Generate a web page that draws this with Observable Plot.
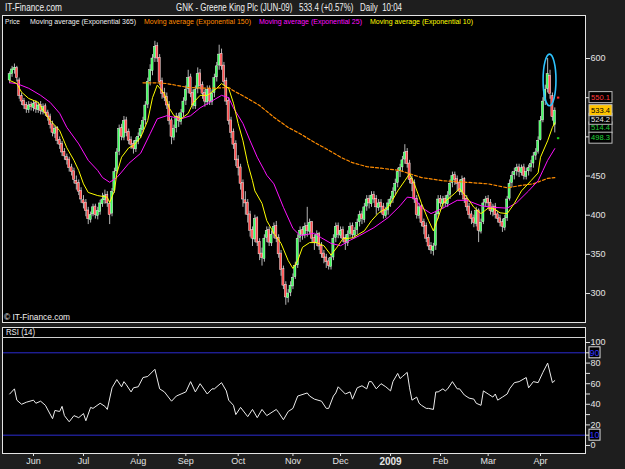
<!DOCTYPE html>
<html><head><meta charset="utf-8">
<script src="https://cdn.jsdelivr.net/npm/d3@7"></script>
<script src="https://cdn.jsdelivr.net/npm/@observablehq/plot@0.6"></script>
<style>
html,body{margin:0;padding:0;background:#1e1e1e;}
#wrap{position:relative;width:625px;height:469px;background:#1e1e1e;overflow:hidden;font-family:"Liberation Sans",Arial,sans-serif;}
.panel{position:absolute;background:#000;border:1px solid #e4e4e4;box-sizing:border-box;}
.abs{position:absolute;left:0;}
#ov text{white-space:pre;}
</style></head><body>
<div id="wrap">
  <div class="panel" style="left:2px;top:15px;width:584px;height:308px"></div>
  <div class="panel" style="left:2px;top:327px;width:584px;height:127px"></div>
  <div id="main" class="abs" style="top:15px"></div>
  <div id="rsi" class="abs" style="top:327px"></div>
  <svg id="ov" class="abs" style="top:0;pointer-events:none" width="625" height="469"></svg>
</div>
<script>
// ---- daily candles (trading-day index 0 = 16 May 2008) ----
const open = [572,580,585,588,572,552,546,541,534,541,
537,543,534,541,532,539,531,526,516,504,
511,496,491,481,474,471,461,456,444,441,
431,419,416,406,394,401,411,399,404,414,
419,426,414,402,431,456,481,511,499,521,
506,496,491,484,494,501,509,521,541,571,
584,601,616,601,571,556,551,541,521,499,
511,526,519,531,546,561,576,556,539,561,
581,566,556,544,561,544,556,576,591,606,
591,571,546,521,506,491,471,461,441,419,
416,401,381,369,396,366,351,344,371,381,
364,376,386,371,351,331,311,294,301,309,
321,336,371,381,374,386,379,391,371,364,
376,361,351,346,341,334,346,371,386,374,
381,371,364,376,386,374,381,391,401,394,
411,421,414,426,421,409,416,411,399,406,
414,421,431,441,456,461,471,481,466,446,
441,421,399,411,391,386,371,361,354,361,
401,421,414,421,414,426,441,451,446,441,
429,446,421,411,401,396,389,406,379,391,
416,421,416,404,411,401,396,391,384,396,
421,441,451,456,461,454,461,449,456,461,
466,476,481,496,521,546,561,578,552,515];
const high = [583,590,593,590,575,556,549,544,545,544,
546,546,544,545,542,542,534,529,520,514,
513,500,494,485,478,474,465,460,450,445,
435,425,420,410,404,414,414,410,419,428,
432,430,418,434,460,485,515,516,526,525,
510,500,495,499,505,515,525,545,575,592,
605,622,620,605,575,562,556,545,524,515,
530,530,535,550,565,585,580,560,565,588,
586,570,560,565,565,560,580,595,617,612,
595,575,550,525,510,495,476,465,445,430,
420,405,385,400,398,370,358,375,385,385,
380,390,392,375,355,335,315,305,315,325,
340,375,385,385,390,410,395,392,375,380,
378,365,355,350,345,350,375,390,390,385,
385,375,380,390,390,384,395,405,405,415,
425,425,430,430,425,420,420,415,410,420,
424,435,446,460,465,475,490,485,470,450,
445,425,415,414,395,390,375,365,364,405,
425,425,424,425,430,445,455,455,450,445,
450,448,425,415,405,400,410,408,395,420,
424,425,420,414,415,405,400,395,400,424,
445,455,460,465,465,464,465,460,464,470,
480,485,500,526,550,566,600,585,556,537];
const low = [568,576,580,570,548,540,535,530,530,533,
532,530,530,528,528,526,520,510,500,498,
490,484,475,470,464,455,450,440,432,425,
415,408,398,388,390,398,395,394,400,410,
414,410,388,398,428,452,476,495,495,500,
490,484,478,480,490,498,505,515,536,565,
578,595,595,565,548,545,535,515,490,495,
505,512,515,525,540,555,550,535,535,555,
560,548,538,540,540,540,550,570,585,585,
565,540,515,498,484,462,450,432,410,400,
390,372,360,365,360,342,335,340,365,360,
360,370,365,345,322,305,285,288,296,305,
318,332,365,368,370,372,375,365,355,360,
355,345,338,332,330,330,342,365,370,370,
365,355,360,372,370,370,375,385,388,390,
405,408,410,415,400,405,402,395,396,400,
410,415,425,435,448,455,465,460,440,430,
415,395,395,385,375,365,355,350,348,355,
395,410,408,410,410,420,435,438,430,425,
425,415,405,395,388,384,385,365,376,388,
410,408,400,398,395,390,385,378,380,392,
418,435,445,450,448,450,445,445,450,455,
460,470,478,495,518,540,556,548,520,505];
const close = [580,586,588,575,552,545,540,535,540,538,
542,535,540,533,538,530,525,515,505,510,
495,490,480,475,470,460,455,445,440,430,
420,415,405,395,400,410,400,405,415,420,
425,415,400,430,455,480,510,500,520,505,
495,490,485,495,500,510,520,540,570,585,
600,615,600,570,555,550,540,520,500,510,
525,520,530,545,560,575,555,540,560,580,
565,555,545,560,545,555,575,590,605,590,
570,545,520,505,490,470,460,440,420,415,
400,380,370,395,365,350,345,370,380,365,
375,385,370,350,330,310,295,300,310,320,
335,370,380,375,385,380,390,370,365,375,
360,350,345,340,335,345,370,385,375,380,
370,365,375,385,375,380,390,400,395,410,
420,415,425,420,410,415,410,400,405,415,
420,430,440,455,460,470,480,465,445,440,
420,400,410,390,385,370,360,355,360,400,
420,415,420,415,425,440,450,445,440,430,
445,420,410,400,395,390,405,380,390,415,
420,415,405,410,400,395,390,385,395,420,
440,450,455,460,455,460,450,455,460,465,
475,480,495,520,545,560,580,555,525,533.4];

// ---- moving averages: [day index, value] ----
const ema10 = [[0,572],[3,568],[5,557],[8,549],[12,544],[14,534],[17,521],[21,508],[24,486],[27,470],[29,457],[31,440],[33,429],[37,425],[41,423],[42,416],[44,431],[45,453],[47,474],[50,486],[52,489],[55,499],[58,521],[60,550],[62,566],[65,555],[67,537],[69,527],[72,523],[75,530],[77,543],[80,553],[83,553],[84,555],[87,562],[89,568],[92,562],[94,543],[96,517],[98,495],[100,466],[102,444],[103,431],[106,415],[108,393],[111,377],[114,364],[117,342],[119,332],[121,342],[123,359],[126,365],[129,365],[132,361],[135,349],[138,361],[140,370],[144,371],[149,380],[152,393],[155,403],[159,410],[160,415],[163,431],[166,444],[168,453],[170,440],[173,415],[176,393],[178,380],[180,397],[182,415],[187,428],[189,434],[192,423],[195,410],[198,402],[201,409],[203,409],[206,403],[209,402],[212,415],[215,431],[219,444],[222,454],[223,474],[226,495],[228,512],[229,518]];
const ema25 = [[0,569],[3,568],[8,562],[13,553],[17,544],[21,530],[24,512],[29,491],[33,470],[37,457],[39,448],[42,442],[45,448],[47,455],[50,466],[55,479],[59,504],[62,523],[66,527],[72,523],[76,527],[80,537],[84,544],[89,553],[92,550],[94,537],[98,517],[101,495],[104,474],[107,457],[108,451],[111,440],[115,410],[119,383],[122,374],[128,377],[131,371],[135,364],[139,361],[143,368],[147,374],[153,384],[159,397],[164,412],[167,423],[170,422],[173,410],[177,402],[182,409],[188,419],[192,419],[198,412],[203,410],[209,409],[213,416],[218,431],[222,444],[224,457],[226,470],[229,485]];
const ema150 = [[56,569],[62,569],[66,568],[75,563],[84,562],[92,563],[94,559],[100,549],[105,540],[111,525],[117,512],[122,504],[128,493],[134,483],[139,474],[144,467],[150,462],[156,460],[164,457],[173,448],[182,444],[192,442],[201,440],[209,435],[215,438],[220,440],[226,447],[229,448]];

// ---- RSI(14): [day index, value] ----
const rsi = [[0,50],[2,55],[3,44],[5,40],[7,42],[10,44],[11,41],[13,43],[15,39],[18,26],[19,34],[21,33],[22,38],[23,29],[25,23],[27,29],[29,27],[31,31],[32,24],[34,37],[35,36],[38,41],[40,38],[41,35],[43,56],[45,64],[47,57],[48,62],[49,59],[51,52],[52,56],[54,57],[56,66],[58,67],[61,74],[63,55],[65,52],[68,43],[70,48],[72,50],[74,52],[76,62],[78,52],[80,60],[83,50],[85,55],[86,55],[89,61],[91,53],[92,44],[94,39],[95,30],[97,37],[100,28],[102,35],[104,27],[106,35],[108,29],[112,35],[113,32],[115,25],[117,33],[119,36],[121,48],[125,51],[126,48],[128,45],[131,43],[133,36],[134,36],[136,48],[137,51],[138,57],[141,50],[143,52],[144,45],[146,56],[148,58],[150,55],[151,62],[152,62],[154,55],[156,60],[158,57],[160,53],[161,62],[163,70],[164,65],[165,67],[167,71],[168,56],[169,44],[171,47],[172,41],[173,39],[175,36],[176,36],[178,35],[179,52],[180,52],[182,55],[183,53],[184,55],[186,62],[188,55],[189,55],[191,49],[193,46],[195,45],[196,41],[198,39],[199,53],[201,50],[203,47],[204,50],[205,44],[207,47],[209,50],[210,55],[212,61],[214,62],[217,66],[218,56],[220,62],[222,61],[224,71],[226,80],[228,61],[229,63]];
const rsiBands = [90, 10];

// ---- axes / labels ----
const monthIdx = [10,31,54,74,96,119,139,160,181,201,223];
const monthLabels = ["Jun","Jul","Aug","Sep","Oct","Nov","Dec","2009","Feb","Mar","Apr"];
const priceTicks = [300,350,400,450,500,550,600];
const hiddenPriceLabels = [500, 550];   // covered by the value tags in the original
const rsiTicks = [0,10,20,30,40,50,60,70,80,90,100];
const priceTags = [
  {v: 550.1, text: "550.1", fg: "#ff3b3b", bg: "#000", z: 5},
  {v: 533.4, text: "533.4", fg: "#000", bg: "#ffc400", z: 4},
  {v: 524.2, text: "524.2", fg: "#e8e8e8", bg: "#000", z: 2},
  {v: 514.4, text: "514.4", fg: "#22c83a", bg: "#000", z: 1},
  {v: 498.3, text: "498.3", fg: "#22d83a", bg: "#000", z: 3}
];
const markers = [{v: 550.1, color: "#ff2a2a"}, {v: 498.3, color: "#1fc81f"}];
const highlight = {i: 227, v: 572, ri: 2.7, rv: 33};

const days = close.map((c, i) => ({i, o: open[i], h: high[i], l: low[i], c}));
const lastIdx = close.length - 1;
const fontFam = "'Liberation Sans', Arial, sans-serif";
const baseStyle = {background: "transparent", color: "#e4e4e4", fontSize: "9px", fontFamily: fontFam};

const mainPlot = Plot.plot({
  width: 625, height: 310,
  marginTop: 12, marginBottom: 3, marginLeft: 3, marginRight: 40,
  style: baseStyle,
  x: {domain: [-2.6, 241.9], axis: null},
  y: {domain: [263, 639.6], axis: "right", ticks: priceTicks, tickFormat: d => hiddenPriceLabels.includes(d) ? "" : String(d), tickSize: 4, tickPadding: 1, label: null},
  marks: [
    Plot.ruleX(days, {x: "i", y1: "l", y2: "h", stroke: "#b4b4b4", strokeWidth: 1}),
    Plot.rect(days, {x1: d => d.i - 0.45, x2: d => d.i + 0.45, y1: "o", y2: "c",
      fill: d => d.c >= d.o ? "#3dff5c" : "#ff4d4d", stroke: "#f2f2f2", strokeWidth: 0.45}),
    Plot.line(ema150, {x: d => d[0], y: d => d[1], stroke: "#ff8c00", strokeWidth: 1.2, strokeDasharray: "3,2"}),
    Plot.line(ema25, {x: d => d[0], y: d => d[1], stroke: "#ff10ff", strokeWidth: 1}),
    Plot.line(ema10, {x: d => d[0], y: d => d[1], stroke: "#ffff00", strokeWidth: 1}),
    Plot.ruleY(markers, {y: "v", x1: lastIdx + 1.1, x2: lastIdx + 2.1, stroke: "color", strokeWidth: 2})
  ]
});
document.getElementById("main").appendChild(mainPlot);

function scaleFn(plot, name) {
  const s = plot.scale(name);
  if (s && typeof s.apply === "function") return v => s.apply(v);
  return d3.scaleLinear(s.domain, s.range);
}
{
  const sx = scaleFn(mainPlot, "x"), sy = scaleFn(mainPlot, "y");
  const svg = d3.select(mainPlot);
  const cx = sx(highlight.i), cy = sy(highlight.v);
  svg.append("ellipse").attr("cx", cx).attr("cy", cy)
    .attr("rx", Math.abs(sx(highlight.i + highlight.ri) - cx))
    .attr("ry", Math.abs(sy(highlight.v + highlight.rv) - cy))
    .attr("fill", "none").attr("stroke", "#2ec4ff").attr("stroke-width", 1.6);
  // stack the tags top-down so the labels keep a minimum gap (as in the original axis)
  const minGap = 8.6;
  let prev = -Infinity;
  const placed = priceTags.map(t => {
    const y = Math.max(sy(t.v), prev + minGap);
    prev = y;
    return {...t, y};
  }).sort((a, b) => a.z - b.z);
  const g = svg.append("g").attr("font-family", fontFam).attr("font-size", 7.5);
  for (const t of placed) {
    g.append("rect").attr("x", 589).attr("y", t.y - 5.5).attr("width", 23).attr("height", 11)
      .attr("fill", t.bg).attr("stroke", "#bdbdbd").attr("stroke-width", 1);
    g.append("text").attr("x", 600.5).attr("y", t.y + 2.8).attr("text-anchor", "middle")
      .attr("fill", t.fg).attr("textLength", 19).attr("lengthAdjust", "spacingAndGlyphs").text(t.text);
  }
}

const monthMap = new Map(monthIdx.map((d, k) => [d, monthLabels[k]]));
const rsiPlot = Plot.plot({
  width: 625, height: 142,
  marginTop: 11, marginBottom: 16, marginLeft: 3, marginRight: 40,
  style: baseStyle,
  x: {domain: [-2.6, 241.9], ticks: monthIdx, tickFormat: d => monthMap.get(d), tickSize: 3, tickPadding: 1, label: null},
  y: {domain: [-7.8, 103.9], axis: "right", ticks: rsiTicks, tickFormat: d => d % 20 === 0 ? String(d) : "", tickSize: 4, tickPadding: 1, label: null},
  marks: [
    Plot.ruleY(rsiBands, {stroke: "#2b2bd0", strokeWidth: 1}),
    Plot.line(rsi, {x: d => d[0], y: d => d[1], stroke: "#ececec", strokeWidth: 1})
  ]
});
document.getElementById("rsi").appendChild(rsiPlot);
{
  const sy = scaleFn(rsiPlot, "y");
  const svg = d3.select(rsiPlot);
  svg.selectAll("text").filter(function() { return this.textContent === "2009"; })
    .attr("font-weight", "bold").attr("font-size", 10);
  const g = svg.append("g").attr("font-family", fontFam).attr("font-size", 9);
  for (const b of rsiBands) {
    const y = sy(b);
    g.append("rect").attr("x", 589).attr("y", y - 5.5).attr("width", 11).attr("height", 11)
      .attr("fill", "#000").attr("stroke", "#e0e0e0");
    g.append("text").attr("x", 594.5).attr("y", y + 3.2).attr("text-anchor", "middle")
      .attr("fill", "#3434ff").text(String(b));
  }
}

// ---- titles, legend, captions ----
const ov = d3.select("#ov");
function txt(x, y, s, len, size, fill, weight) {
  ov.append("text").attr("x", x).attr("y", y).attr("font-family", fontFam)
    .attr("font-size", size).attr("fill", fill).attr("font-weight", weight || "normal")
    .attr("textLength", len).attr("lengthAdjust", "spacingAndGlyphs").text(s);
}
txt(5, 11, "IT-Finance.com", 57, 10.5, "#f0f0f0");
txt(176, 11, "GNK - Greene King Plc (JUN-09)   533.4 (+0.57%)   Daily  10:04", 226, 10.5, "#f0f0f0");
txt(5, 24, "Price", 15, 7.4, "#f0f0f0");
txt(30, 24, "Moving average (Exponential 365)", 106, 7.4, "#f0f0f0");
txt(144, 24, "Moving average (Exponential 150)", 107, 7.4, "#ff8c00");
txt(259, 24, "Moving average (Exponential 25)", 103, 7.4, "#ff10ff");
txt(370, 24, "Moving average (Exponential 10)", 103, 7.4, "#ffff00");
txt(4, 320, "\u00a9 IT-Finance.com", 66, 9, "#f0f0f0");
txt(6, 335, "RSI (14)", 29, 8.5, "#f0f0f0");
ov.append("line").attr("x1", 2).attr("x2", 585).attr("y1", 337.5).attr("y2", 337.5)
  .attr("stroke", "#cfcfcf").attr("stroke-width", 1);
</script>
</body></html>
